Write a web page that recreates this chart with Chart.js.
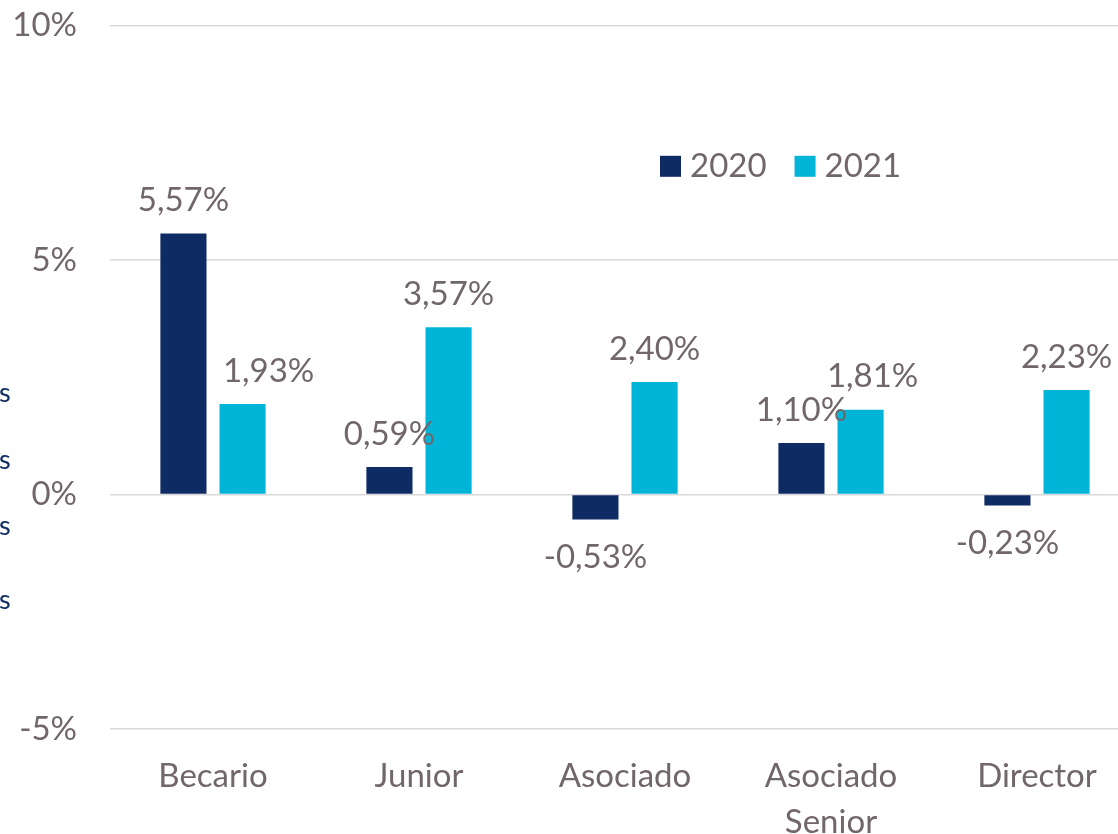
<!DOCTYPE html>
<html>
<head>
<meta charset="utf-8">
<script src="https://cdn.jsdelivr.net/npm/chart.js@4/dist/chart.umd.min.js"></script>
<style>
  html, body { margin: 0; padding: 0; background: #fff; overflow: hidden; }
  #wrap { position: relative; width: 1140px; height: 834px; overflow: hidden; }
  #salary-chart { position: absolute; left: 0; top: -27px; }
  .cut { position: absolute; left: -1px; font: 27px Lato, sans-serif; color: #0f2d62; line-height: 1; }
</style>
</head>
<body>
<div id="wrap">
  <canvas id="salary-chart" width="1140" height="861"></canvas>
  <div class="cut" style="top:378px">s</div>
  <div class="cut" style="top:445px">s</div>
  <div class="cut" style="top:511px">s</div>
  <div class="cut" style="top:585px">s</div>
</div>
<script>
const categories = ['Becario', 'Junior', 'Asociado', ['Asociado', 'Senior'], 'Director'];
const years = ['2020', '2021'];
const values2020 = [5.57, 0.59, -0.53, 1.10, -0.23];
const values2021 = [1.93, 3.57, 2.40, 1.81, 2.23];
const yTicks = [-5, 0, 5, 10];

const TEXT = '#716769';
const FONT = 'Lato, "Open Sans", sans-serif';

// a couple of labels were nudged sideways in the original
const labelShift = { '1-0': 26, '1-3': 12 };

const barLabels = {
    id: 'barLabels',
    afterDatasetsDraw(chart) {
        const ctx = chart.ctx;
        ctx.save();
        ctx.font = '33px ' + FONT;
        ctx.fillStyle = TEXT;
        ctx.textAlign = 'center';
        ctx.textBaseline = 'middle';
        chart.data.datasets.forEach((ds, i) => {
            chart.getDatasetMeta(i).data.forEach((bar, j) => {
                const v = ds.data[j];
                const txt = v.toFixed(2).replace('.', ',') + '%';
                const dx = labelShift[i + '-' + j] || 0;
                const y = v >= 0 ? bar.y - 33 : bar.y + 38;
                ctx.fillText(txt, bar.x + dx, y);
            });
        });
        ctx.restore();
    }
};

const boxLegend = {
    id: 'boxLegend',
    afterDraw(chart) {
        const ctx = chart.ctx;
        ctx.save();
        ctx.font = '33px ' + FONT;
        ctx.textBaseline = 'middle';
        let x = 660;
        const y = chart.chartArea.top + 140;
        chart.data.datasets.forEach(ds => {
            ctx.fillStyle = ds.backgroundColor;
            ctx.fillRect(x, y - 10, 21, 21);
            ctx.fillStyle = TEXT;
            ctx.fillText(ds.label, x + 30, y + 1);
            x += 30 + ctx.measureText(ds.label).width + 28;
        });
        ctx.restore();
    }
};

new Chart(document.getElementById('salary-chart'), {
    type: 'bar',
    data: {
        labels: categories,
        datasets: [{
            label: years[0],
            data: values2020,
            backgroundColor: '#0e2b63'
        }, {
            label: years[1],
            data: values2021,
            backgroundColor: '#00b4d8'
        }]
    },
    options: {
        responsive: false,
        animation: false,
        categoryPercentage: 0.574,
        barPercentage: 0.78,
        layout: { padding: 0 },
        plugins: {
            legend: { display: false },
            tooltip: { enabled: false }
        },
        scales: {
            x: {
                grid: { display: false, drawTicks: false },
                border: { display: false },
                ticks: {
                    color: TEXT,
                    font: { family: FONT, size: 33, lineHeight: 1.4 },
                    padding: 24,
                    maxRotation: 0,
                    autoSkip: false
                },
                afterFit(scale) { scale.height = 105; }
            },
            y: {
                min: -5,
                max: 10,
                afterBuildTicks(scale) { scale.ticks = yTicks.map(v => ({ value: v })); },
                grid: { color: '#d9d9d9', lineWidth: 1.5, drawTicks: false },
                border: { display: false },
                ticks: {
                    color: TEXT,
                    font: { family: FONT, size: 33 },
                    padding: 33,
                    callback: v => v + '%'
                },
                afterFit(scale) { scale.width = 110; }
            }
        }
    },
    plugins: [barLabels, boxLegend]
});
</script>
</body>
</html>
